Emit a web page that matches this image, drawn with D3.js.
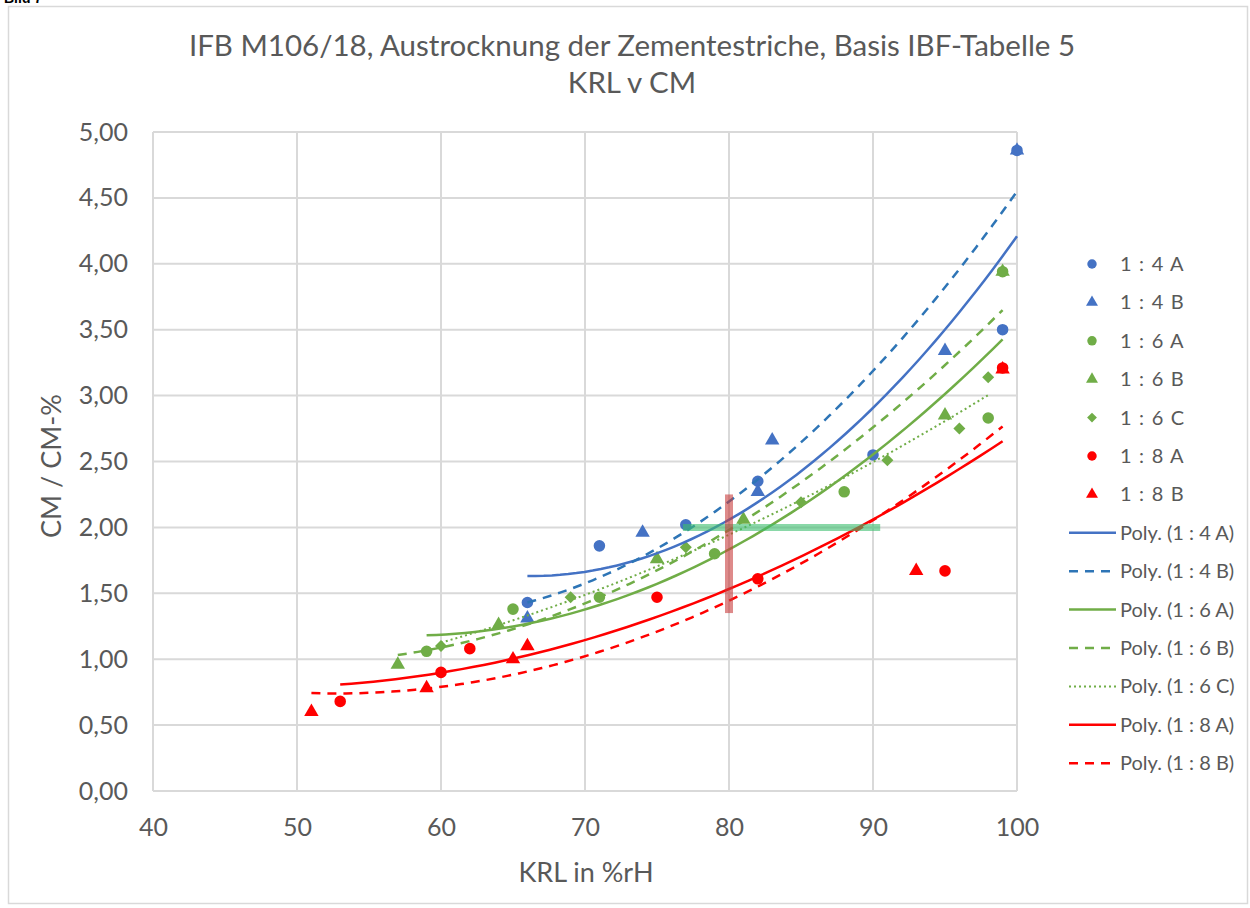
<!DOCTYPE html>
<html><head><meta charset="utf-8">
<script src="https://cdn.jsdelivr.net/npm/d3@7"></script>
<style>body{margin:0;background:#fff;} svg{display:block;font-family:Lato,"Open Sans",sans-serif;}</style>
</head><body>
<svg id="c" width="1250" height="908"></svg>
<script>
const xTicks = [40,50,60,70,80,90,100];
const yTicks = [0,0.5,1,1.5,2,2.5,3,3.5,4,4.5,5];
const seriesNames = ["1 : 4 A","1 : 4 B","1 : 6 A","1 : 6 B","1 : 6 C","1 : 8 A","1 : 8 B"];
const seriesColors = ["#4472C4","#4472C4","#70AD47","#70AD47","#70AD47","#FF0000","#FF0000"];
const trendColors = ["#4472C4","#2E75B6","#70AD47","#70AD47","#70AD47","#FF0000","#FF0000"];
const seriesShapes = ["circle","triangle","circle","triangle","diamond","circle","triangle"];
const trendDash = ["", "9,7", "", "9,7", "2,3", "", "9,7"];
const s14A_x = [66,71,77,82,90,99,100];
const s14A_y = [1.43,1.86,2.02,2.35,2.55,3.50,4.86];
const s14B_x = [66,74,82,83,95,100];
const s14B_y = [1.31,1.96,2.27,2.66,3.34,4.86];
const s16A_x = [59,65,71,79,88,98,99];
const s16A_y = [1.06,1.38,1.47,1.80,2.27,2.83,3.94];
const s16B_x = [57,64,75,81,95,99];
const s16B_y = [0.96,1.26,1.76,2.06,2.85,3.94];
const s16C_x = [60,69,77,85,91,96,98];
const s16C_y = [1.10,1.47,1.85,2.19,2.51,2.75,3.14];
const s18A_x = [53,60,62,75,82,95,99];
const s18A_y = [0.68,0.90,1.08,1.47,1.61,1.67,3.21];
const s18B_x = [51,59,65,66,93,99];
const s18B_y = [0.60,0.78,1.00,1.10,1.67,3.20];
const allX = [s14A_x,s14B_x,s16A_x,s16B_x,s16C_x,s18A_x,s18B_x];
const allY = [s14A_y,s14B_y,s16A_y,s16B_y,s16C_y,s18A_y,s18B_y];
// highlight bars (KRL 80 range and CM 2.00 range)
const vBar = {x:80, y0:1.35, y1:2.25};
const hBar = {y:2.00, x0:76.8, x1:90.5};

const svg = d3.select("#c");
const m = {l:153, r:1017, t:132, b:791};
const x = d3.scaleLinear().domain([40,100]).range([m.l,m.r]);
const y = d3.scaleLinear().domain([0,5]).range([m.b,m.t]);
const grey="#595959";

svg.append("text").attr("x",4).attr("y",3).attr("font-family","Arial,Liberation Sans").attr("font-weight","bold").attr("font-size",14).attr("fill","#000").text("Bild 7");
svg.append("rect").attr("x",8.5).attr("y",6.5).attr("width",1239).attr("height",897).attr("fill","#fff").attr("stroke","#d9d9d9").attr("stroke-width",1.5);

svg.append("text").attr("x",632).attr("y",56).attr("text-anchor","middle").attr("font-size",29.5).attr("fill",grey)
  .text("IFB M106/18, Austrocknung der Zementestriche, Basis IBF-Tabelle 5");
svg.append("text").attr("x",632).attr("y",93).attr("text-anchor","middle").attr("font-size",29.5).attr("fill",grey).text("KRL v CM");

// grid
const g = svg.append("g");
g.selectAll(".hg").data(yTicks).join("line").attr("x1",m.l).attr("x2",m.r).attr("y1",d=>y(d)).attr("y2",d=>y(d)).attr("stroke","#d9d9d9").attr("stroke-width",2);
g.selectAll(".vg").data(xTicks).join("line").attr("y1",m.t).attr("y2",m.b).attr("x1",d=>x(d)).attr("x2",d=>x(d)).attr("stroke","#d9d9d9").attr("stroke-width",2);

const fmt = d => d3.format(".2f")(d).replace(".",",");
const yAx = svg.append("g").attr("transform",`translate(${m.l},0)`).call(d3.axisLeft(y).tickValues(yTicks).tickFormat(fmt).tickSize(0).tickPadding(25));
yAx.select(".domain").remove();
yAx.selectAll("text").attr("font-size",25).attr("fill",grey).attr("font-family","Lato,sans-serif");
const xAx = svg.append("g").attr("transform",`translate(0,${m.b})`).call(d3.axisBottom(x).tickValues(xTicks).tickFormat(d3.format("d")).tickSize(0).tickPadding(27));
xAx.select(".domain").remove();
xAx.selectAll("text").attr("font-size",25).attr("fill",grey).attr("font-family","Lato,sans-serif");

svg.append("text").attr("x",586).attr("y",882).attr("text-anchor","middle").attr("font-size",27).attr("fill",grey).text("KRL in %rH");
svg.append("text").attr("transform","translate(61,466) rotate(-90)").attr("text-anchor","middle").attr("font-size",27).attr("fill",grey).text("CM / CM-%");

// markers
function sym(shape, big){
  if(shape==="circle") return d3.symbol(d3.symbolCircle,big?105:70)();
  if(shape==="triangle") return d3.symbol(d3.symbolTriangle,big?90:62)();
  return d3.symbol(d3.symbolSquare,big?72:48)();
}
const rot = s => s==="diamond" ? " rotate(45)" : "";
const pts = svg.append("g");
allX.forEach((xs,i)=>{
  pts.selectAll(null).data(xs.map((v,j)=>[v,allY[i][j]])).join("path")
    .attr("d",sym(seriesShapes[i],true)).attr("transform",d=>`translate(${x(d[0])},${y(d[1])})${rot(seriesShapes[i])}`).attr("fill",seriesColors[i]);
});

// polynomial order-2 trendlines (least squares, like spreadsheet trendlines)
function polyfit2(xs,ys){
  let S=[0,0,0,0,0],T=[0,0,0];
  xs.forEach((xv,k)=>{for(let p=0;p<5;p++)S[p]+=Math.pow(xv,p);for(let p=0;p<3;p++)T[p]+=ys[k]*Math.pow(xv,p);});
  const A=[[S[0],S[1],S[2],T[0]],[S[1],S[2],S[3],T[1]],[S[2],S[3],S[4],T[2]]];
  for(let i=0;i<3;i++){let piv=A[i][i];for(let j=i;j<4;j++)A[i][j]/=piv;for(let r=0;r<3;r++){if(r!==i){const f=A[r][i];for(let j=i;j<4;j++)A[r][j]-=f*A[i][j];}}}
  return [A[0][3],A[1][3],A[2][3]];
}
const tl = svg.append("g");
allX.forEach((xs,i)=>{
  const c = polyfit2(xs,allY[i]);
  const lo=d3.min(xs),hi=d3.max(xs);
  const samples=d3.range(0,61).map(k=>lo+(hi-lo)*k/60);
  tl.append("path").attr("d",d3.line().x(v=>x(v)).y(v=>y(c[0]+c[1]*v+c[2]*v*v))(samples))
    .attr("fill","none").attr("stroke",trendColors[i]).attr("stroke-width",i===4?2:2.5).attr("stroke-dasharray",trendDash[i]||null);
});

// highlight bars
svg.append("line").attr("x1",x(hBar.x0)).attr("x2",x(hBar.x1)).attr("y1",y(hBar.y)).attr("y2",y(hBar.y)).attr("stroke","rgba(60,190,110,0.6)").attr("stroke-width",7);
svg.append("line").attr("x1",x(vBar.x)).attr("x2",x(vBar.x)).attr("y1",y(vBar.y0)).attr("y2",y(vBar.y1)).attr("stroke","rgba(200,60,60,0.6)").attr("stroke-width",8);

// legend
const lg = svg.append("g");
const ly0=264, ldy=38.4;
seriesNames.forEach((n,i)=>{
  const yy=ly0+i*ldy;
  lg.append("path").attr("d",sym(seriesShapes[i],false)).attr("transform",`translate(1092,${yy})${rot(seriesShapes[i])}`).attr("fill",seriesColors[i]);
  lg.append("text").attr("x",1120).attr("y",yy+7).attr("font-size",20).attr("fill",grey).attr("letter-spacing",1.2).text(n);
});
seriesNames.forEach((n,i)=>{
  const yy=ly0+(i+7)*ldy;
  lg.append("line").attr("x1",1069).attr("x2",1116).attr("y1",yy).attr("y2",yy).attr("stroke",trendColors[i]).attr("stroke-width",i===4?2:2.5).attr("stroke-dasharray",trendDash[i]||null);
  lg.append("text").attr("x",1120).attr("y",yy+7).attr("font-size",20).attr("fill",grey).text("Poly. ("+n+")");
});
</script>
</body></html>
